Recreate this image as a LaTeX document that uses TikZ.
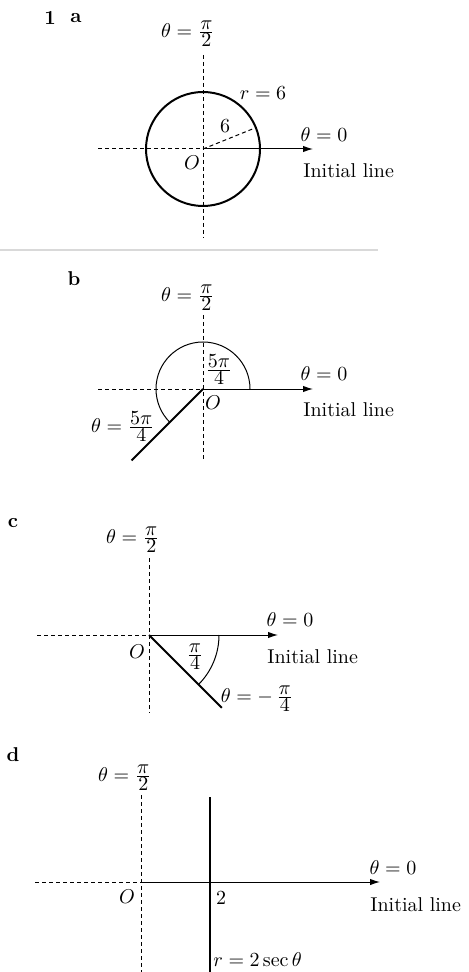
\documentclass[tikz,border=0pt]{standalone}
\usepackage{amsmath,amssymb}
\usepackage{tikz}
\usetikzlibrary{arrows.meta,positioning,calc}
\newcommand{\angfrac}[2]{\frac{\textstyle #1}{\textstyle #2}}

\begin{document}
\begin{tikzpicture}[x=0.5pt, y=0.5pt,
    axis/.style={draw, line width=0.5pt, dash pattern=on 2pt off 1.5pt},
    initial/.style={draw, line width=0.5pt, -{Latex[length=5pt,width=3.2pt]}},
    curve/.style={draw, line width=1pt},
    thin curve/.style={draw, line width=0.5pt},
    lbl/.style={inner sep=0pt},
    part/.style={inner sep=0pt, font=\bfseries}
]
    \useasboundingbox (0,0) rectangle (468,-972);

    % part a
    \node[part] (num1) at (50,-18) {1};
    \node[part] (parta) at (76,-18) {a};
    \coordinate (Oa) at (203,-149);
    \coordinate (a_left) at (98,-149);
    \coordinate (a_top) at (203,-55);
    \coordinate (a_bot) at (203,-238);
    \coordinate (a_tip) at (313,-149);
    \coordinate (a_rad) at ($(Oa)+(22:57)$);
    \path [curve] (Oa) circle[radius=57];
    \path [axis] (a_left) -- (Oa);
    \path [axis] (a_top) -- (a_bot);
    \path [axis] (Oa) -- (a_rad);
    \path [initial] (Oa) -- (a_tip);
    \node[lbl] (a_half) at (188,-34) {$\theta = \angfrac{\pi}{2}$};
    \node[lbl] (a_r) at (263,-93) {$r = 6$};
    \node[lbl] (a_six) at (225,-126) {$6$};
    \node[lbl] (a_zero) at (324,-135) {$\theta = 0$};
    \node[lbl, anchor=west] (a_init) at (303,-171) {Initial line};
    \node[lbl] (a_O) at (192,-163) {$O$};

    \draw[black!15, line width=1pt] (0,-250) -- (378,-250);

    % part b
    \node[part] (partb) at (74,-279) {b};
    \coordinate (Ob) at (203,-389);
    \coordinate (b_left) at (98,-389);
    \coordinate (b_top) at (203,-315);
    \coordinate (b_bot) at (203,-460);
    \coordinate (b_tip) at (313,-389);
    \coordinate (b_ray) at ($(Ob)+(225:101)$);
    \coordinate (b_arc) at ($(Ob)+(47,0)$);
    \path [axis] (b_left) -- (Ob);
    \path [axis] (b_top) -- (b_bot);
    \path [initial] (Ob) -- (b_tip);
    \path [curve] (Ob) -- (b_ray);
    \path [thin curve] (b_arc) arc[start angle=0, end angle=225, radius=47];
    \node[lbl] (b_half) at (188,-298) {$\theta = \angfrac{\pi}{2}$};
    \node[lbl] (b_ang) at (219,-370) {$\angfrac{5\pi}{4}$};
    \node[lbl] (b_rayl) at (123,-427) {$\theta = \angfrac{5\pi}{4}$};
    \node[lbl] (b_zero) at (324,-374) {$\theta = 0$};
    \node[lbl, anchor=west] (b_init) at (303,-410) {Initial line};
    \node[lbl] (b_O) at (213,-403) {$O$};

    % part c
    \node[part] (partc) at (13,-523) {c};
    \coordinate (Oc) at (149,-635);
    \coordinate (c_left) at (37,-635);
    \coordinate (c_top) at (149,-558);
    \coordinate (c_bot) at (149,-713);
    \coordinate (c_tip) at (278,-635);
    \coordinate (c_ray) at ($(Oc)+(-45:103)$);
    \coordinate (c_arc) at ($(Oc)+(-45:70)$);
    \path [axis] (c_left) -- (Oc);
    \path [axis] (c_top) -- (c_bot);
    \path [initial] (Oc) -- (c_tip);
    \path [curve] (Oc) -- (c_ray);
    \path [thin curve] (c_arc) arc[start angle=-45, end angle=0, radius=70];
    \node[lbl] (c_half) at (133,-540) {$\theta = \angfrac{\pi}{2}$};
    \node[lbl] (c_ang) at (195,-657) {$\angfrac{\pi}{4}$};
    \node[lbl] (c_rayl) at (257,-699) {$\theta = -\,\angfrac{\pi}{4}$};
    \node[lbl] (c_zero) at (290,-620) {$\theta = 0$};
    \node[lbl, anchor=west] (c_init) at (267,-657) {Initial line};
    \node[lbl] (c_O) at (137,-652) {$O$};

    % part d
    \node[part] (partd) at (13,-755) {d};
    \coordinate (Od) at (141,-882);
    \coordinate (d_left) at (35,-882);
    \coordinate (d_top) at (141,-795);
    \coordinate (d_bot) at (141,-972);
    \coordinate (d_tip) at (380,-882);
    \coordinate (d_up) at (210,-797);
    \coordinate (d_down) at (210,-972);
    \path [axis] (d_left) -- (Od);
    \path [axis] (d_top) -- (d_bot);
    \path [initial] (Od) -- (d_tip);
    \path [curve] (d_up) -- (d_down);
    \node[lbl] (d_half) at (125,-778) {$\theta = \angfrac{\pi}{2}$};
    \node[lbl] (d_two) at (221,-898) {$2$};
    \node[lbl] (d_O) at (127,-897) {$O$};
    \node[lbl] (d_zero) at (393,-868) {$\theta = 0$};
    \node[lbl, anchor=west] (d_init) at (370,-905) {Initial line};
    \node[lbl, anchor=west] (d_line) at (213,-960) {$r = 2\sec\theta$};
\end{tikzpicture}
\end{document}
